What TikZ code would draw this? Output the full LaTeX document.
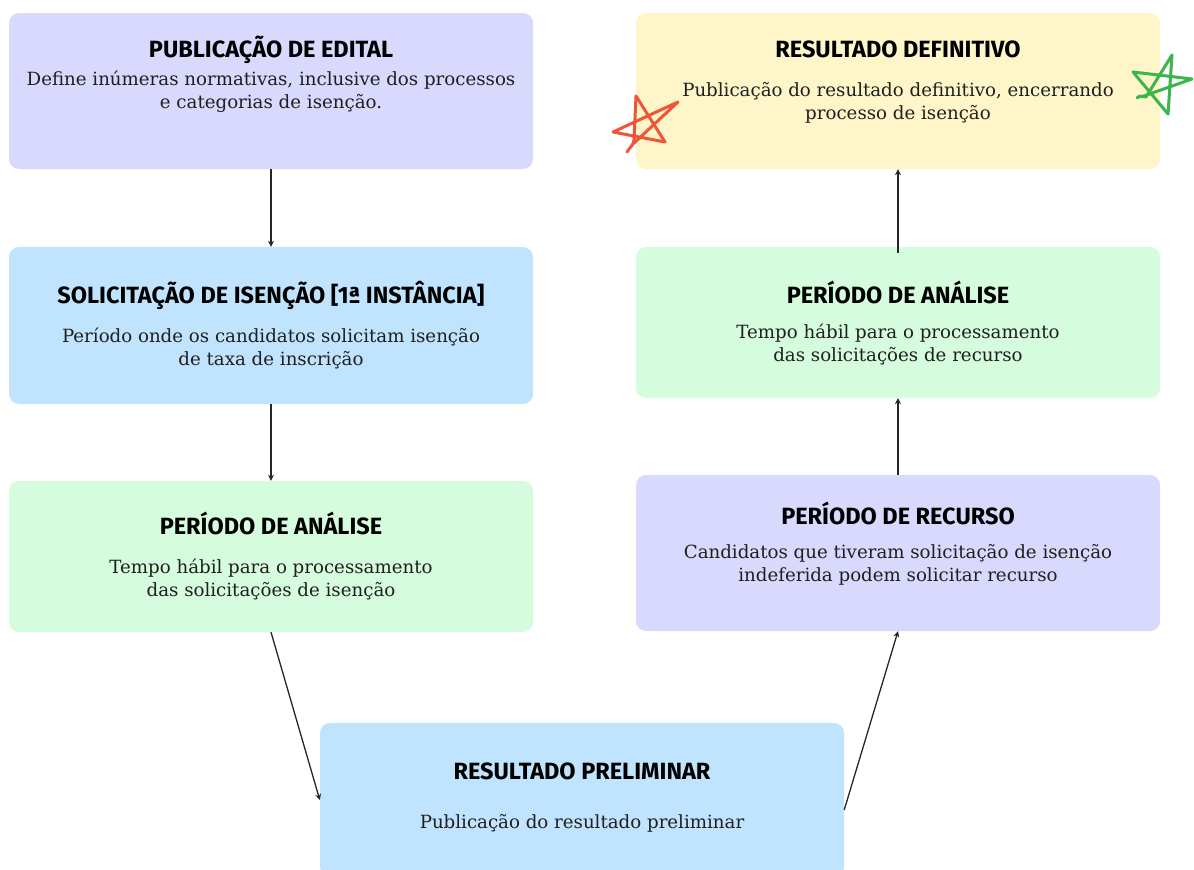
\documentclass[tikz,border=0pt]{standalone}
\usepackage{fontspec}
\setmainfont{DejaVu Serif}
\newfontfamily\titlefont{Fira Sans}
\usetikzlibrary{arrows.meta}
\definecolor{lav}{HTML}{D8D9FD}
\definecolor{sky}{HTML}{C0E4FD}
\definecolor{mint}{HTML}{D5FCDC}
\definecolor{cream}{HTML}{FEF5C8}
\definecolor{starred}{HTML}{F0553A}
\definecolor{stargreen}{HTML}{3CB54A}
\tikzset{
  box/.style={rectangle, rounded corners=10pt, minimum width=524pt, draw=none, inner sep=0pt},
  ttl/.style={anchor=base, font=\titlefont\bfseries\fontsize{23.5}{26}\selectfont, text=black, inner sep=0pt},
  bdy/.style={anchor=base, font=\fontsize{18.2}{23}\selectfont, text=black!88, align=center, inner sep=0pt},
  conn/.style={line width=1.3pt, draw=black!85, -{Stealth[length=6pt,width=6pt]}},
  star/.style={line width=3pt, line cap=round, line join=round}
}
\begin{document}
\begin{tikzpicture}[x=1pt,y=-1pt]
\useasboundingbox (0,0) rectangle (1194,870);
\clip (0,0) rectangle (1194,870);
% boxes
\node[box, fill=lav, minimum height=156pt] (b1) at (271,91) {};
\node[box, fill=sky, minimum height=157pt] (b2) at (271,325.5) {};
\node[box, fill=mint, minimum height=151pt] (b3) at (271,556.5) {};
\node[box, fill=sky, minimum height=154pt] (b4) at (582,800) {};
\node[box, fill=lav, minimum height=156pt] (b5) at (898,553) {};
\node[box, fill=mint, minimum height=151pt] (b6) at (898,322.5) {};
\node[box, fill=cream, minimum height=156pt] (b7) at (898,91) {};
% texts
\node[ttl] (t1) at ([yshift=-45pt]b1.north) {PUBLICAÇÃO DE EDITAL};
\node[bdy] (d1) at ([yshift=-96pt]b1.north) {Define inúmeras normativas, inclusive dos processos\\e categorias de isenção.};
\node[ttl] (t2) at ([yshift=-57pt]b2.north) {SOLICITAÇÃO DE ISENÇÃO [1ª INSTÂNCIA]};
\node[bdy] (d2) at ([yshift=-119pt]b2.north) {Período onde os candidatos solicitam isenção\\de taxa de inscrição};
\node[ttl] (t3) at ([yshift=-54pt]b3.north) {PERÍODO DE ANÁLISE};
\node[bdy] (d3) at ([yshift=-116pt]b3.north) {Tempo hábil para o processamento\\das solicitações de isenção};
\node[ttl] (t4) at ([yshift=-57pt]b4.north) {RESULTADO PRELIMINAR};
\node[bdy] (d4) at ([yshift=-106pt]b4.north) {Publicação do resultado preliminar};
\node[ttl] (t5) at ([yshift=-50pt]b5.north) {PERÍODO DE RECURSO};
\node[bdy] (d5) at ([yshift=-107pt]b5.north) {Candidatos que tiveram solicitação de isenção\\indeferida podem solicitar recurso};
\node[ttl] (t6) at ([yshift=-57pt]b6.north) {PERÍODO DE ANÁLISE};
\node[bdy] (d6) at ([yshift=-115pt]b6.north) {Tempo hábil para o processamento\\das solicitações de recurso};
\node[ttl] (t7) at ([yshift=-45pt]b7.north) {RESULTADO DEFINITIVO};
\node[bdy] (d7) at ([yshift=-107pt]b7.north) {Publicação do resultado definitivo, encerrando\\processo de isenção};
% connectors
\draw[conn] (b1.south) -- (b2.north);
\draw[conn] (b2.south) -- (b3.north);
\draw[conn] (b3.south) -- (b4.west);
\draw[conn] ([yshift=-10pt]b4.east) -- (b5.south);
\draw[conn] (b5.north) -- (b6.south);
\draw[conn] ([yshift=-6pt]b6.north) -- (b7.south);
% hand-drawn stars
\draw[star, starred] (627,152) .. controls (630,147) and (633,146) .. (634,140)
  -- (636,96) -- (665,142) -- (613,132) -- (678,102) -- (632,145);
\draw[star, stargreen] (1137,98) .. controls (1140,95) and (1143,96) .. (1146,97)
  -- (1172,55) -- (1168,114) -- (1133,72) -- (1192,79) -- (1141,97);
\end{tikzpicture}
\end{document}
